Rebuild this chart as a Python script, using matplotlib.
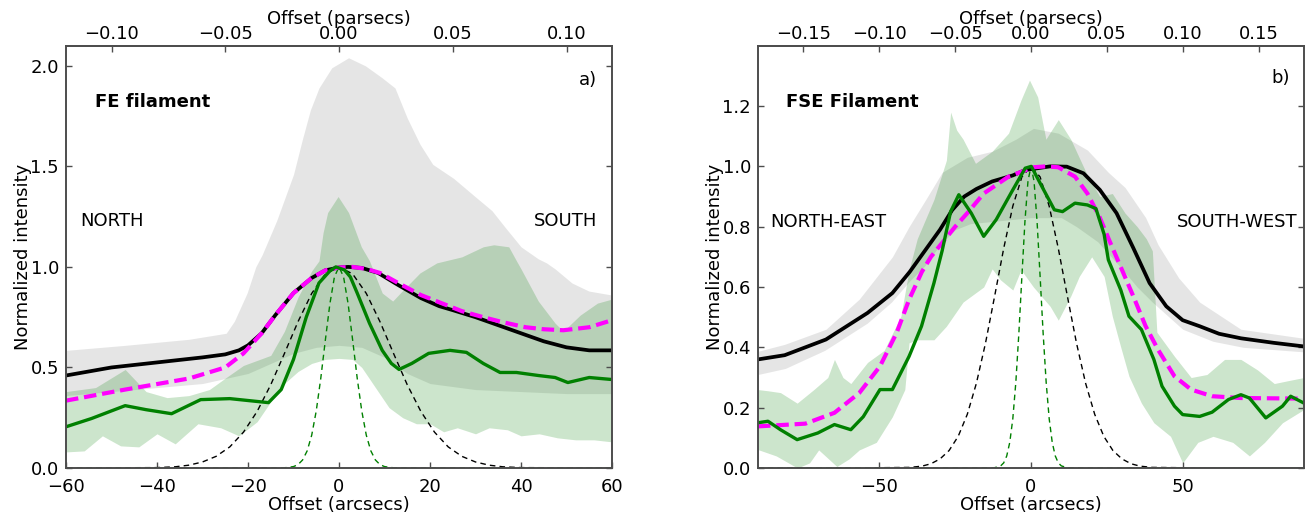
import numpy as np
import matplotlib
matplotlib.use("Agg")
import matplotlib.pyplot as plt

plt.rcParams['font.family'] = ['DejaVu Sans']

PC_PER_ARCSEC = 0.002

# ---------------- Panel a) FE filament ----------------
L_black_x = [-60, -50, -40, -30, -25, -22, -20, -17, -14, -10, -6, -3, 0, 2, 5, 8.6, 13, 18, 22, 25, 30, 35, 40, 45, 50, 55, 60]
L_black_y = [0.46, 0.5, 0.525, 0.55, 0.565, 0.585, 0.61, 0.67, 0.76, 0.87, 0.945, 0.983, 0.997, 1.0, 0.995, 0.97, 0.91, 0.845, 0.805, 0.785, 0.75, 0.71, 0.67, 0.63, 0.60, 0.585, 0.585]

L_mag_x = [-60, -47, -33, -25, -21, -17, -14, -10, -6, -3, 0, 3, 6, 9, 13, 18, 22.5, 27, 31.7, 36, 41, 45, 49.3, 55, 60]
L_mag_y = [0.335, 0.39, 0.445, 0.5, 0.57, 0.67, 0.76, 0.87, 0.945, 0.983, 0.997, 1.0, 0.99, 0.97, 0.92, 0.86, 0.82, 0.78, 0.75, 0.725, 0.70, 0.69, 0.685, 0.70, 0.735]

L_green_x = [-60, -54.4, -47, -42.4, -36.8, -30.4, -24, -15.5, -12.7, -10, -7.2, -4.4, -2, -0.7, 1.2, 2.5, 4, 6.7, 9.5, 11.5, 13.2, 16, 19.7, 24.4, 28, 31.7, 35.4, 39, 43.8, 47.5, 50.3, 55, 60]
L_green_y = [0.205, 0.246, 0.31, 0.29, 0.27, 0.34, 0.345, 0.325, 0.39, 0.54, 0.75, 0.92, 0.98, 1.0, 0.985, 0.95, 0.87, 0.72, 0.585, 0.52, 0.49, 0.52, 0.57, 0.585, 0.575, 0.52, 0.475, 0.475, 0.46, 0.45, 0.425, 0.45, 0.44]

L_greyup_x = [-60, -47, -33, -24.8, -23, -20.2, -18.3, -16.9, -13.7, -10, -8.1, -6.3, -4.4, -1.6, 2.1, 5.8, 9.5, 12.3, 15, 17.8, 20.6, 25.2, 29.9, 33.6, 36.4, 40, 43.8, 45.6, 47.5, 51.2, 54.9, 60]
L_greyup_y = [0.585, 0.61, 0.64, 0.67, 0.73, 0.87, 1.0, 1.06, 1.23, 1.46, 1.63, 1.78, 1.89, 1.99, 2.04, 2.0, 1.94, 1.89, 1.74, 1.61, 1.51, 1.44, 1.35, 1.28, 1.2, 1.1, 1.04, 1.02, 0.99, 0.92, 0.88, 0.86]
L_greylo_x = [-60, -50, -40, -35, -30, -20, -15, -10, -5, 0, 5, 10, 15, 20, 30, 40, 50, 60]
L_greylo_y = [0.36, 0.38, 0.40, 0.41, 0.42, 0.47, 0.52, 0.57, 0.6, 0.61, 0.6, 0.55, 0.47, 0.42, 0.39, 0.38, 0.37, 0.37]

L_gup_x = [-60, -53.5, -47, -42.4, -37.8, -33, -28.5, -24.8, -21, -17.4, -15, -12, -9, -6, -4.4, -3.5, -2.5, -0.2, 2.1, 4.9, 6.7, 9.5, 11.8, 14.1, 17.8, 21.5, 27, 31.7, 34, 37.3, 39, 40, 43.8, 47.5, 49.3, 53, 56.8, 60]
L_gup_y = [0.38, 0.40, 0.49, 0.38, 0.35, 0.36, 0.39, 0.45, 0.51, 0.54, 0.56, 0.68, 0.85, 0.98, 1.03, 1.17, 1.27, 1.35, 1.27, 1.1, 1.03, 0.87, 0.83, 0.885, 0.97, 1.02, 1.05, 1.1, 1.11, 1.1, 1.03, 0.99, 0.83, 0.72, 0.68, 0.76, 0.82, 0.84]
L_glo_x = [-60, -56, -52, -48, -44, -40, -36, -31, -26, -22, -18, -15, -12, -9, -6, -3, 0, 3, 5, 8, 11, 14, 17, 20, 23, 26, 30, 33, 37, 40, 44, 48, 52, 56, 60]
L_glo_y = [0.08, 0.085, 0.16, 0.11, 0.105, 0.17, 0.12, 0.22, 0.2, 0.16, 0.23, 0.33, 0.42, 0.48, 0.52, 0.54, 0.545, 0.54, 0.5, 0.4, 0.3, 0.25, 0.22, 0.22, 0.18, 0.2, 0.17, 0.2, 0.19, 0.16, 0.17, 0.15, 0.14, 0.14, 0.13]

# beam profiles (black: wide, green: narrow)
BW_x = [-90, -60, -40, -36, -33, -30, -27, -24, -21, -18, -15, -12, -9, -6, -3, 0, 3, 6, 9, 12, 15, 18, 21, 24, 27, 30, 33, 36, 40, 60, 90]
BW_y = [0.0, 0.0, 0.002, 0.006, 0.014, 0.03, 0.058, 0.105, 0.178, 0.281, 0.414, 0.569, 0.728, 0.868, 0.965, 1.0, 0.965, 0.868, 0.728, 0.569, 0.414, 0.281, 0.178, 0.105, 0.058, 0.03, 0.014, 0.006, 0.002, 0.0, 0.0]
BN_x = [-90, -12, -10, -9, -8, -7, -6, -5, -4, -3, -2, -1, 0, 1, 2, 3, 4, 5, 6, 7, 8, 9, 10, 12, 90]
BN_y = [0.0, 0.001, 0.007, 0.017, 0.04, 0.085, 0.163, 0.284, 0.447, 0.636, 0.817, 0.951, 1.0, 0.951, 0.817, 0.636, 0.447, 0.284, 0.163, 0.085, 0.04, 0.017, 0.007, 0.001, 0.0]

# ---------------- Panel b) FSE filament ----------------
R_black_x = [-90, -81.2, -67.6, -53.9, -45.7, -40, -35, -30, -26, -22, -18, -12.8, -6, -1.9, 3, 6.3, 11.8, 17.3, 22.7, 28.2, 33.7, 39.1, 44.6, 50, 55.6, 62, 69.2, 80, 90]
R_black_y = [0.36, 0.374, 0.426, 0.514, 0.58, 0.65, 0.72, 0.79, 0.855, 0.9, 0.925, 0.95, 0.97, 0.988, 0.995, 1.0, 0.999, 0.977, 0.922, 0.845, 0.73, 0.613, 0.536, 0.49, 0.47, 0.445, 0.43, 0.415, 0.403]

R_mag_x = [-90, -74.4, -64.8, -56.6, -49.8, -44.3, -40.2, -36, -33, -29, -25, -21, -15.6, -7.4, 0.8, 5, 9, 14.5, 18.6, 22.7, 26, 29, 33.7, 37.8, 41.9, 47.3, 52.8, 59.7, 69.2, 90]
R_mag_y = [0.138, 0.147, 0.183, 0.249, 0.337, 0.448, 0.558, 0.65, 0.70, 0.75, 0.80, 0.845, 0.91, 0.966, 0.997, 1.0, 0.997, 0.966, 0.91, 0.83, 0.75, 0.68, 0.57, 0.47, 0.392, 0.304, 0.26, 0.238, 0.232, 0.23]

R_green_x = [-90, -86.7, -82.6, -77.1, -70.3, -64.8, -59.4, -55.3, -49.8, -45.7, -40.2, -36.1, -32, -29.3, -26.5, -23.8, -19.7, -15.6, -11.5, -6, -1.9, 0.1, 3.6, 7.7, 10.4, 14.5, 18.6, 21.4, 24.1, 25.5, 29.6, 32.3, 36.4, 40.5, 43.2, 47.3, 50, 55.6, 59.7, 65.1, 69.2, 72, 77.4, 82.9, 85.6, 90]
R_green_y = [0.15, 0.155, 0.127, 0.094, 0.116, 0.144, 0.127, 0.17, 0.26, 0.26, 0.37, 0.47, 0.613, 0.72, 0.85, 0.906, 0.845, 0.768, 0.823, 0.922, 0.994, 1.0, 0.933, 0.856, 0.85, 0.878, 0.872, 0.86, 0.775, 0.69, 0.59, 0.503, 0.459, 0.36, 0.271, 0.205, 0.177, 0.171, 0.185, 0.227, 0.243, 0.232, 0.166, 0.205, 0.238, 0.215]

R_greyup_x = [-90, -81.2, -67.6, -56.6, -45.7, -40.2, -34.7, -29.3, -21, -12.8, -5, 0.8, 9, 18.6, 25.5, 31, 37.8, 41.9, 48.7, 55.6, 69.2, 90]
R_greyup_y = [0.387, 0.41, 0.46, 0.56, 0.7, 0.8, 0.89, 0.98, 1.03, 1.05, 1.09, 1.126, 1.11, 1.054, 0.98, 0.93, 0.83, 0.74, 0.63, 0.55, 0.46, 0.43]
R_greylo_x = [-90, -81, -68, -54, -46, -40, -35, -30, -25, -20, -10, 0, 10, 15, 22, 30, 35, 40, 50, 60, 70, 90]
R_greylo_y = [0.31, 0.33, 0.39, 0.48, 0.55, 0.62, 0.67, 0.74, 0.79, 0.81, 0.82, 0.83, 0.83, 0.8, 0.75, 0.66, 0.6, 0.55, 0.46, 0.42, 0.40, 0.385]

R_gup_x = [-90, -86.7, -82.6, -77.1, -71.6, -67, -64.8, -62, -59.4, -53.9, -48.4, -42.9, -40.2, -37.5, -32, -27.9, -26.5, -24.5, -22.4, -18.3, -12.8, -7.4, -3.3, -0.5, 2.2, 4.9, 9, 13.1, 18.6, 22.7, 26.8, 31, 35, 38, 40, 41.5, 47.3, 52.8, 58, 63.8, 69.2, 74.7, 80.2, 85, 90]
R_gup_y = [0.26, 0.256, 0.25, 0.215, 0.26, 0.3, 0.36, 0.3, 0.28, 0.35, 0.39, 0.503, 0.657, 0.76, 0.89, 1.02, 1.18, 1.12, 1.09, 1.01, 1.05, 1.11, 1.22, 1.286, 1.23, 1.09, 1.155, 1.09, 0.97, 0.9, 0.91, 0.845, 0.8, 0.76, 0.72, 0.45, 0.37, 0.3, 0.31, 0.36, 0.36, 0.325, 0.28, 0.29, 0.3]
R_glo_x = [-90, -84, -77, -73, -70, -64, -60, -56.6, -51, -45.7, -41.6, -40.2, -37.5, -32, -27.9, -22.4, -15.6, -12.8, -10.1, -6, -3.3, 0.8, 6.3, 9, 13.1, 15.9, 20, 24.1, 26.8, 29.6, 32.3, 36.4, 40.5, 46, 50, 55, 60, 66.5, 72, 77, 82.9, 90]
R_glo_y = [0.061, 0.04, 0.0, 0.017, 0.06, 0.005, 0.03, 0.06, 0.085, 0.17, 0.26, 0.415, 0.425, 0.425, 0.47, 0.55, 0.6, 0.66, 0.624, 0.59, 0.657, 0.6, 0.536, 0.49, 0.57, 0.635, 0.7, 0.635, 0.503, 0.4, 0.304, 0.215, 0.15, 0.105, 0.017, 0.085, 0.105, 0.085, 0.04, 0.085, 0.15, 0.194]

L_xticks = [-60, -40, -20, 0, 20, 40, 60]
L_yticks = [0.0, 0.5, 1.0, 1.5, 2.0]
L_pcticks = [-0.10, -0.05, 0.00, 0.05, 0.10]
R_xticks = [-50, 0, 50]
R_yticks = [0.0, 0.2, 0.4, 0.6, 0.8, 1.0, 1.2]
R_pcticks = [-0.15, -0.10, -0.05, 0.00, 0.05, 0.10, 0.15]

FS = 13
fig = plt.figure(figsize=(13.11, 5.14), dpi=100)
axL = fig.add_axes([66/1311, 46/514, 546/1311, 422.3/514])
axR = fig.add_axes([758/1311, 46/514, 546/1311, 422.3/514])


def band(ax, ux, uy, lx, ly, color):
    grid = np.union1d(np.array(ux, float), np.array(lx, float))
    up = np.interp(grid, ux, uy)
    lo = np.interp(grid, lx, ly)
    ax.fill_between(grid, lo, up, color=color, alpha=0.2, linewidth=0)


def draw(ax, d, xlim, ylim, xt, yt, pct, title, tag, lt, rt, pos):
    band(ax, d['gux'], d['guy'], d['glx'], d['gly'], '0.5')
    band(ax, d['nux'], d['nuy'], d['nlx'], d['nly'], 'green')
    ax.plot(BW_x, BW_y, color='black', lw=1.0, dashes=(4, 3))
    ax.plot(BN_x, BN_y, color='green', lw=1.0, dashes=(4, 3))
    ax.plot(d['bx'], d['by'], color='black', lw=2.7, solid_joinstyle='round')
    ax.plot(d['mx'], d['my'], color='magenta', lw=3.0, dashes=(3, 1.4),
            dash_joinstyle='round')
    ax.plot(d['cx'], d['cy'], color='green', lw=2.4, solid_joinstyle='round')
    ax.set_xlim(*xlim)
    ax.set_ylim(*ylim)
    ax.set_xticks(xt)
    ax.set_yticks(yt)
    ax.tick_params(direction='in', right=True, top=False, labelsize=FS, pad=5,
                   length=4.5, width=1, color='0.3')
    ax.tick_params(axis='x', pad=7)
    for s in ax.spines.values():
        s.set_color('0.3')
        s.set_linewidth(1.4)
    ax.set_xlabel('Offset (arcsecs)', fontsize=FS, labelpad=0)
    ax.set_ylabel('Normalized intensity', fontsize=FS, labelpad=-1)
    sec = ax.secondary_xaxis('top', functions=(lambda a: a * PC_PER_ARCSEC,
                                                lambda p: p / PC_PER_ARCSEC))
    sec.set_xticks(pct)
    sec.set_xticklabels(['%.2f' % v if v >= 0 else '\u2212%.2f' % (-v) for v in pct])
    sec.tick_params(direction='in', labelsize=FS, pad=2, length=4.5, width=1, color='0.3')
    sec.spines['top'].set_color('0.3')
    sec.spines['top'].set_linewidth(1.4)
    sec.set_xlabel('Offset (parsecs)', fontsize=FS, labelpad=1)
    ax.text(pos['title'][0], pos['title'][1], title, fontsize=FS, fontweight='bold',
            ha='left', va='center')
    ax.text(pos['tag'][0], pos['tag'][1], tag, fontsize=FS, ha='right', va='center')
    ax.text(pos['lt'][0], pos['lt'][1], lt, fontsize=FS, ha='left', va='center')
    ax.text(pos['rt'][0], pos['rt'][1], rt, fontsize=FS, ha='right', va='center')


dL = dict(gux=L_greyup_x, guy=L_greyup_y, glx=L_greylo_x, gly=L_greylo_y,
          nux=L_gup_x, nuy=L_gup_y, nlx=L_glo_x, nly=L_glo_y,
          bx=L_black_x, by=L_black_y, mx=L_mag_x, my=L_mag_y, cx=L_green_x, cy=L_green_y)
dR = dict(gux=R_greyup_x, guy=R_greyup_y, glx=R_greylo_x, gly=R_greylo_y,
          nux=R_gup_x, nuy=R_gup_y, nlx=R_glo_x, nly=R_glo_y,
          bx=R_black_x, by=R_black_y, mx=R_mag_x, my=R_mag_y, cx=R_green_x, cy=R_green_y)

draw(axL, dL, (-60, 60), (0, 2.1), L_xticks, L_yticks, L_pcticks,
     'FE filament', 'a)', 'NORTH', 'SOUTH',
     dict(title=(-53.6, 1.82), tag=(56.7, 1.93), lt=(-56.9, 1.23), rt=(56.7, 1.23)))
draw(axR, dR, (-90, 90), (0, 1.4), R_xticks, R_yticks, R_pcticks,
     'FSE Filament', 'b)', 'NORTH-EAST', 'SOUTH-WEST',
     dict(title=(-80.8, 1.213), tag=(85.4, 1.293), lt=(-86, 0.816), rt=(87.7, 0.816)))

fig.savefig('out.png', dpi=100)
